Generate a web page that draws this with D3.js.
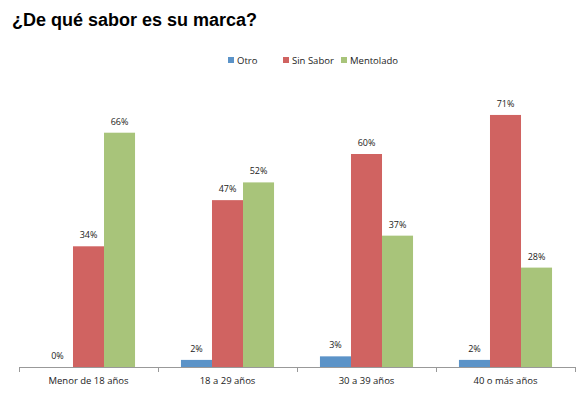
<!DOCTYPE html>
<html>
<head>
<meta charset="utf-8">
<script src="https://cdn.jsdelivr.net/npm/d3@7"></script>
<style>
  body { margin: 0; background: #fff; }
  svg { display: block; }
  text { font-family: "Open Sans", "DejaVu Sans", sans-serif; fill: #222; }
</style>
</head>
<body>
<script>
// chart data
var categories = ["Menor de 18 años", "18 a 29 años", "30 a 39 años", "40 o más años"];
var series = ["Otro", "Sin Sabor", "Mentolado"];
var otro = [0, 2, 3, 2];
var sinSabor = [34, 47, 60, 71];
var mentolado = [66, 52, 37, 28];
var colors = ["#5b93c8", "#d06361", "#a8c47a"];

var width = 583, height = 399;

var svg = d3.select("body")
  .append("svg")
  .attr("width", width)
  .attr("height", height);

// title
svg.append("text")
  .attr("x", 12)
  .attr("y", 26)
  .style("font-family", "'Liberation Sans', Arial, sans-serif")
  .style("font-weight", "bold")
  .style("font-size", "18px")
  .style("fill", "#000")
  .text("¿De qué sabor es su marca?");

// build rows from the arrays
var values = [otro, sinSabor, mentolado];
var rows = categories.map(function(c, i) {
  return { cat: c, vals: series.map(function(s, j) { return { key: s, idx: j, v: values[j][i] }; }) };
});

// scales
var x0 = d3.scaleBand()
  .domain(categories)
  .range([19, 575]);

var x1 = d3.scaleBand()
  .domain(series)
  .range([0, x0.bandwidth()])
  .paddingOuter(0.74);

var y = d3.scaleLinear()
  .domain([0, 80])
  .range([367, 83]);

var color = d3.scaleOrdinal().domain(series).range(colors);

// bars
var groups = svg.selectAll(".group")
  .data(rows)
  .enter().append("g")
  .attr("class", "group")
  .attr("transform", function(d) { return "translate(" + x0(d.cat) + ",0)"; });

groups.selectAll("rect")
  .data(function(d) { return d.vals; })
  .enter().append("rect")
  .attr("x", function(d) { return x1(d.key); })
  .attr("y", function(d) { return y(d.v); })
  .attr("width", x1.bandwidth())
  .attr("height", function(d) { return y(0) - y(d.v); })
  .style("fill", function(d) { return color(d.key); });

// value labels
groups.selectAll(".lbl")
  .data(function(d) { return d.vals; })
  .enter().append("text")
  .attr("class", "lbl")
  .attr("x", function(d) { return x1(d.key) + x1.bandwidth() / 2; })
  .attr("y", function(d) { return y(d.v) - 8; })
  .attr("text-anchor", "middle")
  .style("font-size", "9px")
  .text(function(d) { return d.v + "%"; });

// x axis with labels centred, ticks at band edges
var xAxis = svg.append("g")
  .attr("transform", "translate(0,367)")
  .call(d3.axisBottom(x0).tickSize(0).tickPadding(10));

xAxis.select(".domain").attr("stroke", "#999").attr("d", "M19.5,0.5H575.5");
xAxis.selectAll("text")
  .style("font-family", "'Open Sans', 'DejaVu Sans', sans-serif")
  .style("font-size", "9.5px")
  .style("fill", "#222");

var edges = categories.map(function(c) { return x0(c); }).concat([x0.range()[1]]);
xAxis.selectAll(".edge")
  .data(edges)
  .enter().append("line")
  .attr("class", "edge")
  .attr("x1", function(d) { return Math.round(d) + 0.5; })
  .attr("x2", function(d) { return Math.round(d) + 0.5; })
  .attr("y1", 0)
  .attr("y2", 5)
  .attr("stroke", "#999");

// legend
var legendX = [228, 283, 341];
var legend = svg.selectAll(".legend")
  .data(series)
  .enter().append("g")
  .attr("class", "legend")
  .attr("transform", function(d, i) { return "translate(" + legendX[i] + ",57)"; });

legend.append("rect")
  .attr("width", 6)
  .attr("height", 6)
  .style("fill", function(d) { return color(d); });

legend.append("text")
  .attr("x", 9)
  .attr("y", 6.5)
  .style("font-size", "9.5px")
  .text(function(d) { return d; });
</script>
</body>
</html>
